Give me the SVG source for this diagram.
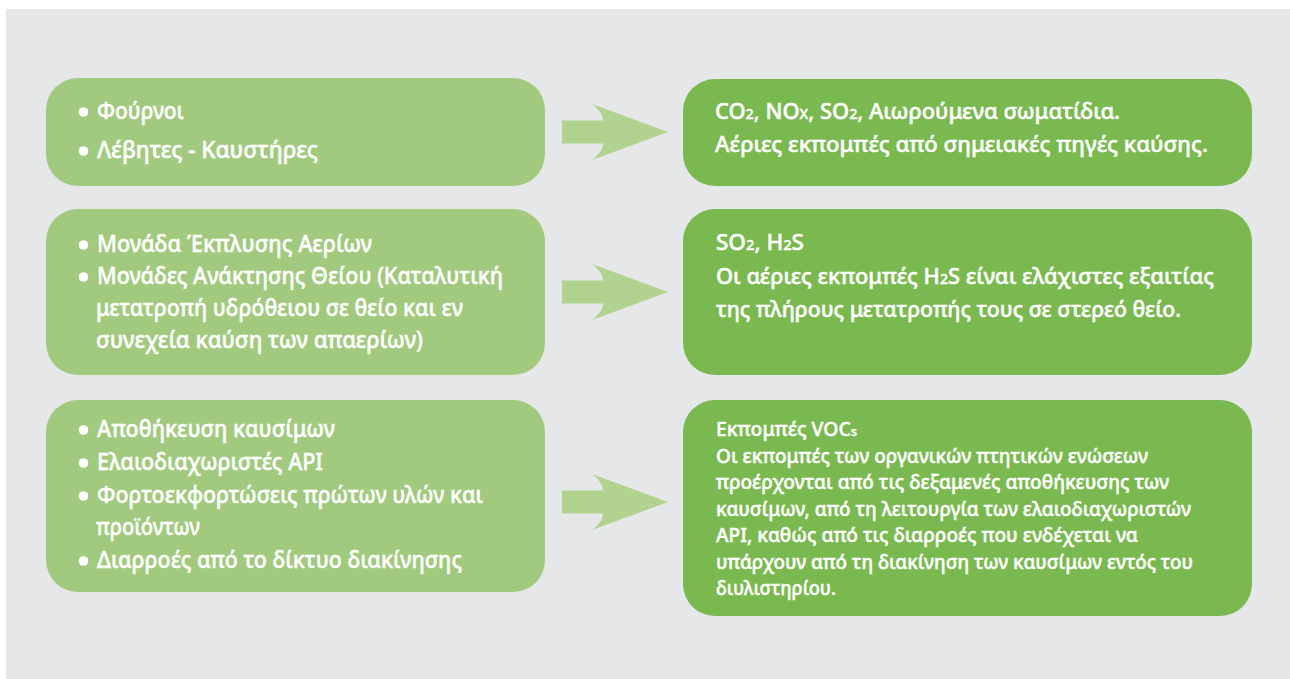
<svg xmlns="http://www.w3.org/2000/svg" width="1290" height="679" viewBox="0 0 1290 679">
<defs>
<style>
.bg{fill:#E6E7E9}
.src{fill:#A1CA7E}
.out{fill:#7AB94F}
.arr{fill:#B1D38F}
.t{fill:#FFFFFF;stroke:#FFFFFF;stroke-width:0.45px;font-family:"Noto Sans","Liberation Sans",sans-serif;font-weight:500}
.tl{font-size:23.5px}
.tr{font-size:21.5px}
.ts{font-size:19.5px}
.sub{font-size:14px}
.sub2{font-size:13px}
.dot{fill:#FFFFFF}
</style>
</defs>
<rect x="0" y="0" width="1290" height="679" fill="#FFFFFF"/>
<rect class="bg" x="6" y="9" width="1284" height="670"/>

<g id="connectors">
<path class="arr" d="M562,120.5 L603,120.5 Q603,112 592,104 L668,132 L592,160 Q603,152 603,143.5 L562,143.5 Z"/>
<path class="arr" d="M562,280.5 L603,280.5 Q603,272 592,264 L668,292 L592,320 Q603,312 603,303.5 L562,303.5 Z"/>
<path class="arr" d="M562,490.5 L603,490.5 Q603,482 592,474 L668,502 L592,530 Q603,522 603,513.5 L562,513.5 Z"/>
</g>

<g id="src1">
<rect class="src" x="46" y="78" width="499" height="108" rx="32" ry="32"/>
<circle class="dot" cx="83.5" cy="112" r="4.8"/>
<circle class="dot" cx="83.5" cy="151" r="4.8"/>
<text class="t tl" x="97" y="119" textLength="87" lengthAdjust="spacingAndGlyphs">Φούρνοι</text>
<text class="t tl" x="97" y="158" textLength="221" lengthAdjust="spacingAndGlyphs">Λέβητες - Καυστήρες</text>
</g>

<g id="src2">
<rect class="src" x="46" y="209" width="499" height="166" rx="32" ry="32"/>
<circle class="dot" cx="83.5" cy="245" r="4.8"/>
<circle class="dot" cx="83.5" cy="277" r="4.8"/>
<text class="t tl" x="97" y="252" textLength="275" lengthAdjust="spacingAndGlyphs">Μονάδα Έκπλυσης Αερίων</text>
<text class="t tl" x="97" y="284" textLength="406" lengthAdjust="spacingAndGlyphs">Μονάδες Ανάκτησης Θείου (Καταλυτική</text>
<text class="t tl" x="96" y="316" textLength="367" lengthAdjust="spacingAndGlyphs">μετατροπή υδρόθειου σε θείο και εν</text>
<text class="t tl" x="96" y="348" textLength="327" lengthAdjust="spacingAndGlyphs">συνεχεία καύση των απαερίων)</text>
</g>

<g id="src3">
<rect class="src" x="46" y="400" width="499" height="192" rx="32" ry="32"/>
<circle class="dot" cx="83.5" cy="430" r="4.8"/>
<circle class="dot" cx="83.5" cy="463" r="4.8"/>
<circle class="dot" cx="83.5" cy="496" r="4.8"/>
<circle class="dot" cx="83.5" cy="561" r="4.8"/>
<text class="t tl" x="97" y="437" textLength="238" lengthAdjust="spacingAndGlyphs">Αποθήκευση καυσίμων</text>
<text class="t tl" x="97" y="470" textLength="226" lengthAdjust="spacingAndGlyphs">Ελαιοδιαχωριστές API</text>
<text class="t tl" x="97" y="503" textLength="386" lengthAdjust="spacingAndGlyphs">Φορτοεκφορτώσεις πρώτων υλών και</text>
<text class="t tl" x="96" y="535" textLength="104" lengthAdjust="spacingAndGlyphs">προϊόντων</text>
<text class="t tl" x="97" y="568" textLength="365" lengthAdjust="spacingAndGlyphs">Διαρροές από το δίκτυο διακίνησης</text>
</g>

<g id="out1">
<rect class="out" x="683" y="79" width="569" height="107" rx="32" ry="32"/>
<text class="t tr" x="715" y="119" textLength="405" lengthAdjust="spacingAndGlyphs">CO<tspan class="sub">2</tspan>, NO<tspan class="sub">X</tspan>, SO<tspan class="sub">2</tspan>, Αιωρούμενα σωματίδια.</text>
<text class="t tr" x="715" y="152" textLength="493" lengthAdjust="spacingAndGlyphs">Αέριες εκπομπές από σημειακές πηγές καύσης.</text>
</g>

<g id="out2">
<rect class="out" x="683" y="209" width="569" height="166" rx="32" ry="32"/>
<text class="t tr" x="716" y="250" textLength="88" lengthAdjust="spacingAndGlyphs">SO<tspan class="sub">2</tspan>, H<tspan class="sub">2</tspan>S</text>
<text class="t tr" x="716" y="284" textLength="498" lengthAdjust="spacingAndGlyphs">Οι αέριες εκπομπές H<tspan class="sub">2</tspan>S είναι ελάχιστες εξαιτίας</text>
<text class="t tr" x="716" y="317" textLength="465" lengthAdjust="spacingAndGlyphs">της πλήρους μετατροπής τους σε στερεό θείο.</text>
</g>

<g id="out3">
<rect class="out" x="683" y="400" width="569" height="216" rx="32" ry="32"/>
<text class="t ts" x="716" y="436" textLength="141" lengthAdjust="spacingAndGlyphs">Εκπομπές VOC<tspan class="sub2">s</tspan></text>
<text class="t ts" x="716" y="463" textLength="432" lengthAdjust="spacingAndGlyphs">Οι εκπομπές των οργανικών πτητικών ενώσεων</text>
<text class="t ts" x="716" y="489" textLength="453" lengthAdjust="spacingAndGlyphs">προέρχονται από τις δεξαμενές αποθήκευσης των</text>
<text class="t ts" x="716" y="516" textLength="475" lengthAdjust="spacingAndGlyphs">καυσίμων, από τη λειτουργία των ελαιοδιαχωριστών</text>
<text class="t ts" x="716" y="542" textLength="422" lengthAdjust="spacingAndGlyphs">API, καθώς από τις διαρροές που ενδέχεται να</text>
<text class="t ts" x="716" y="569" textLength="477" lengthAdjust="spacingAndGlyphs">υπάρχουν από τη διακίνηση των καυσίμων εντός του</text>
<text class="t ts" x="716" y="595" textLength="120" lengthAdjust="spacingAndGlyphs">διυλιστηρίου.</text>
</g>
</svg>
